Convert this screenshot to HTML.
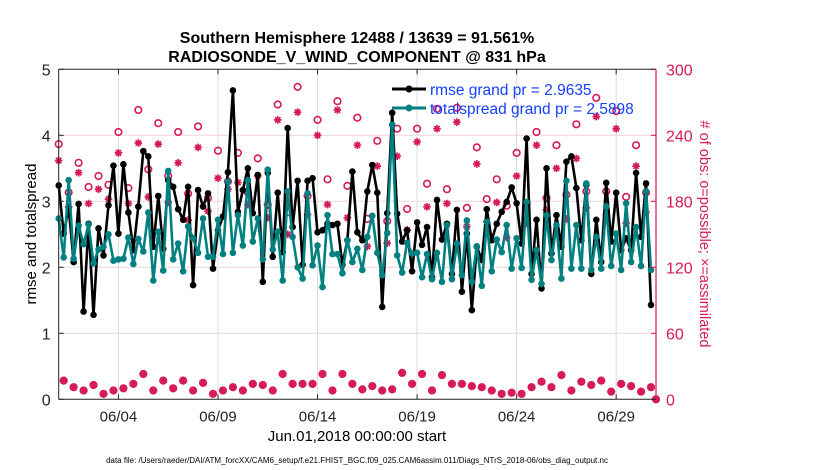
<!DOCTYPE html>
<html><head><meta charset="utf-8">
<style>
html,body{margin:0;padding:0;background:#fff;}
svg{display:block;font-family:"Liberation Sans",sans-serif;}
</style></head>
<body>
<svg id="chart" width="830" height="470" viewBox="0 0 830 470">
  <g id="grid"></g>
  <g id="obs"></g>
  <g id="lines"></g>
  <g id="axes"></g>
  <text x="357" y="43" text-anchor="middle" font-size="16" font-weight="bold">Southern Hemisphere 12488 / 13639 = 91.561%</text>
  <text x="357" y="62" text-anchor="middle" font-size="16" font-weight="bold">RADIOSONDE_V_WIND_COMPONENT @ 831 hPa</text>
  <text transform="translate(36,234) rotate(-90)" text-anchor="middle" font-size="15">rmse and totalspread</text>
  <text transform="translate(700,234) rotate(90)" text-anchor="middle" font-size="14.5" fill="#d6195a"># of obs: o=possible; ×=assimilated</text>
  <text x="357" y="441" text-anchor="middle" font-size="15">Jun.01,2018 00:00:00 start</text>
  <text x="357" y="463" text-anchor="middle" font-size="8">data file: /Users/raeder/DAI/ATM_forcXX/CAM6_setup/f.e21.FHIST_BGC.f09_025.CAM6assim.011/Diags_NTrS_2018-06/obs_diag_output.nc</text>
  <g>
    <line x1="392" y1="89" x2="426" y2="89" stroke="#000" stroke-width="3"/>
    <circle cx="409" cy="89" r="3.5" fill="#000"/>
    <text x="430" y="95" font-size="15.5" fill="#1540ff">rmse grand pr = 2.9635</text>
    <line x1="392" y1="108" x2="426" y2="108" stroke="#008080" stroke-width="3"/>
    <circle cx="409" cy="108" r="3.5" fill="#008080"/>
    <text x="430" y="114" font-size="15.5" fill="#1540ff">totalspread grand pr = 2.5898</text>
  </g>
</svg>
<script>
const xTickLabels = ["06/04","06/09","06/14","06/19","06/24","06/29"];
const xTickDays = [3,8,13,18,23,28];
const leftTicks = [0,1,2,3,4,5];
const rightTicks = [0,60,120,180,240,300];
const rmse = [3.24,2.51,2.9,2.08,2.96,1.33,2.66,1.28,2.59,2.18,2.94,3.54,2.51,3.56,2.83,2.26,2.92,3.76,3.68,2.31,3.08,2.28,3.32,3.22,2.88,2.72,3.22,1.73,3.17,2.92,3.12,
1.98,2.56,2.77,3.44,4.68,2.84,3.17,3.5,2.82,3.4,1.78,3.43,2.16,3.13,2.23,4.11,2.61,3.31,2.04,3.31,3.35,2.53,2.56,2.66,2.64,2.66,2.04,2.41,3.45,2.53,2.41,
3.15,3.55,3.13,1.4,2.82,4.34,2.81,2.39,2.56,1.94,2.68,2.34,2.61,1.85,3.02,2.42,2.66,1.9,2.87,1.63,2.51,1.35,2.31,2.11,2.88,2.41,2.66,2.84,2.99,3.21,2.97,
2.36,3.95,1.9,2.72,1.68,3.5,2.21,2.79,2.31,3.6,3.68,3.2,2.41,3.25,1.9,2.72,2.08,3.28,2.39,3.13,2.26,2.44,2.26,3.43,2.46,3.27,1.43];
const spread = [2.74,2.15,3.32,2.13,2.63,2.35,2.65,2.06,2.27,2.31,2.5,2.1,2.12,2.13,2.45,2.05,2.43,2.24,2.83,1.8,2.54,1.95,3.46,2.12,2.36,1.94,2.62,2.44,2.22,2.74,2.16,
2.16,2.72,2.2,3.3,2.22,2.79,2.33,3.32,2.39,2.74,2.12,3.48,2.27,2.54,1.8,3.15,2.46,2.0,1.83,3.12,2.03,2.33,1.7,2.79,2.2,2.2,1.91,2.41,2.08,2.28,1.96,
2.46,2.78,2.22,1.88,2.52,4.16,2.18,1.92,2.37,2.21,2.22,1.85,2.2,1.82,2.22,1.78,2.64,1.82,2.36,1.88,2.71,1.78,2.32,1.72,2.69,1.94,2.42,2.23,2.64,1.98,2.44,
1.99,2.99,1.81,2.26,1.75,2.79,2.11,2.64,1.83,3.31,1.98,2.64,1.98,3.27,1.96,2.46,1.98,2.92,2.02,2.51,1.96,2.97,2.08,2.61,2.02,3.15,1.96];
const possibleMain = [232,188,215,193,203,195,243,192,263,209,251,203,243,187,248,183,
226,198,224,188,219,177,268,170,284,185,254,200,271,194,256,
164,235,162,246,173,246,196,264,191,265,174,229,182,200,176,224,
178,243,183,231,186,250,189,274,189,262,184,231,188,0];
const assimMain = [217,175,206,178,191,182,224,178,233,184,232,179,215,163,229,171,
201,191,197,177,203,165,254,150,261,168,240,177,263,165,231,
139,212,142,221,154,234,175,246,178,252,157,214,161,179,147,203,
160,231,172,210,164,219,174,257,168,246,160,212,170,0];
const possibleOff = [17,11,8,13,5,8,10,14,23,8,17,10,17,8,15,
5,8,11,8,14,13,8,23,14,14,14,23,8,23,14,
9,12,8,9,24,14,23,8,22,14,14,12,11,8,5,6,
5,11,16,11,22,8,16,13,17,7,14,12,7,11];
const assimOff = [17,11,8,13,5,8,10,14,23,8,17,10,17,8,15,
5,8,11,8,14,13,8,23,14,14,14,23,8,23,14,
9,12,8,9,24,14,23,8,22,14,14,12,11,8,5,6,
5,11,16,11,22,8,16,13,17,7,14,12,7,11];

const X0=58.7, X1=656, Y0=399.3, Y1=69.3, DAYS=30;
const RED="#d6195a";
const xDay=d=>X0+(X1-X0)*d/DAYS;
const xStep=i=>xDay(i*0.25);
const yL=v=>Y0-(Y0-Y1)*v/5;
const yR=v=>Y0-(Y0-Y1)*v/300;
const NS="http://www.w3.org/2000/svg";
function mk(tag,attrs,parent){const e=document.createElementNS(NS,tag);for(const k in attrs)e.setAttribute(k,attrs[k]);parent.appendChild(e);return e;}
const grid=document.getElementById('grid'),axes=document.getElementById('axes'),obs=document.getElementById('obs'),lines=document.getElementById('lines');

xTickDays.forEach((d,k)=>{
  const x=xDay(d);
  const g=mk('line',{x1:x,y1:Y1,x2:x,y2:Y0,stroke:'#dcdcdc','stroke-width':1},grid);
  
  
  mk('line',{x1:x,y1:Y0,x2:x,y2:Y0-5,stroke:'#222','stroke-width':1},axes);
  mk('line',{x1:x,y1:Y1,x2:x,y2:Y1+5,stroke:'#222','stroke-width':1},axes);
  const t=mk('text',{x:x,y:Y0+22,'text-anchor':'middle','font-size':15,fill:'#222'},axes);
  t.textContent=xTickLabels[k];
  
  
});
leftTicks.forEach(v=>{
  const y=yL(v);
  if(v>0&&v<5){const g=mk('line',{x1:X0,y1:y,x2:X1,y2:y,stroke:'#efd3de','stroke-width':1},grid);
  
  }
  mk('line',{x1:X0,y1:y,x2:X0+5,y2:y,stroke:'#222'},axes);
  const t=mk('text',{x:X0-8,y:y+6,'text-anchor':'end','font-size':16,fill:'#222'},axes);
  t.textContent=v;
  
  
});
rightTicks.forEach(v=>{
  const y=yR(v);
  mk('line',{x1:X1,y1:y,x2:X1-5,y2:y,stroke:RED},axes);
  const t=mk('text',{x:X1+10,y:y+6,'text-anchor':'start','font-size':16,fill:RED},axes);
  t.textContent=v;
  
  
});
mk('line',{x1:X0,y1:Y1,x2:X1,y2:Y1,stroke:'#222','stroke-width':1},axes);
mk('line',{x1:X0,y1:Y0,x2:X1,y2:Y0,stroke:'#222','stroke-width':1},axes);
mk('line',{x1:X0,y1:Y1,x2:X0,y2:Y0,stroke:'#222','stroke-width':1},axes);
mk('line',{x1:X1,y1:Y1,x2:X1,y2:Y0,stroke:RED,'stroke-width':1.2},axes);

function star(x,y,name){
  const s=3.8,d=2.7;
  const p=mk('path',{d:`M${x-s},${y}H${x+s}M${x},${y-s}V${y+s}M${x-d},${y-d}L${x+d},${y+d}M${x-d},${y+d}L${x+d},${y-d}`,stroke:RED,'stroke-width':1.7,fill:'none'},obs);
  
  
}
function ring(x,y,name){
  const c=mk('circle',{cx:x,cy:y,r:3.3,fill:'none',stroke:RED,'stroke-width':1.6},obs);
  
  
}
possibleMain.forEach((v,k)=>ring(xStep(2*k),yR(v),'obs-possible-point'));
assimMain.forEach((v,k)=>star(xStep(2*k),yR(v),'obs-assimilated-point'));
possibleOff.forEach((v,k)=>ring(xStep(2*k+1),yR(v),'obs-possible-point'));
assimOff.forEach((v,k)=>star(xStep(2*k+1),yR(v),'obs-assimilated-point'));

function series(arr,color,name){
  const pts=arr.map((v,i)=>xStep(i).toFixed(1)+','+yL(v).toFixed(1)).join(' ');
  const pl=mk('polyline',{points:pts,fill:'none',stroke:color,'stroke-width':2.6,'stroke-linejoin':'round'},lines);
  
  
  arr.forEach((v,i)=>{
    const c=mk('circle',{cx:xStep(i),cy:yL(v),r:3.3,fill:color},lines);
    
    
  });
}
series(rmse,'#000','rmse');
series(spread,'#008080','totalspread');
</script>
</body></html>
